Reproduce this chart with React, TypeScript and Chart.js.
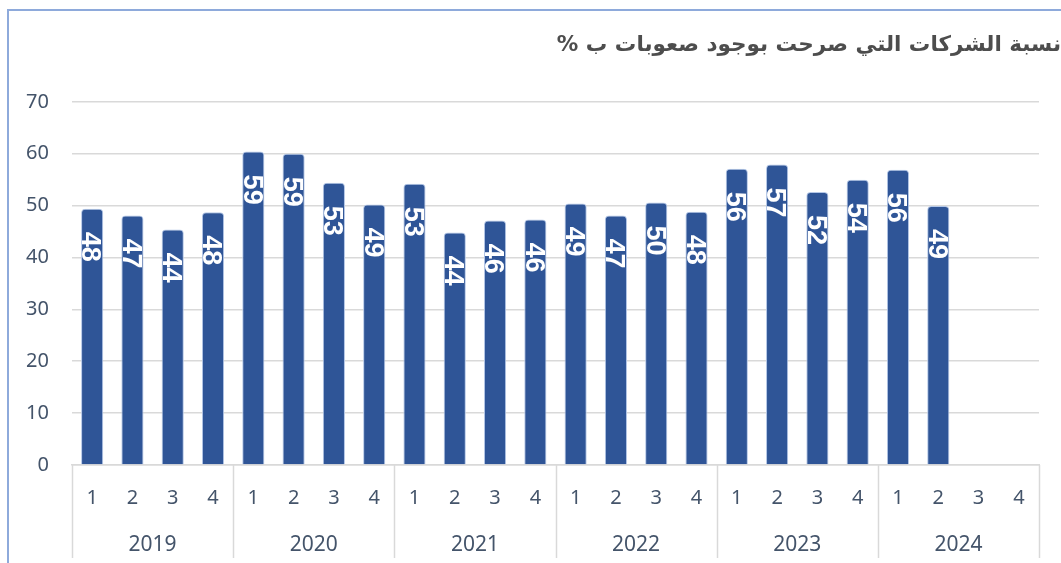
import React, { useEffect, useRef } from "react";
import { Chart, registerables } from "chart.js";

Chart.register(...registerables);

const TITLE = "نسبة الشركات التي صرحت بوجود صعوبات ب %";
const quarters = ["1", "2", "3", "4", "1", "2", "3", "4", "1", "2", "3", "4", "1", "2", "3", "4", "1", "2", "3", "4", "1", "2", "3", "4"];
const years = ["2019", "2020", "2021", "2022", "2023", "2024"];
// bar heights as drawn in the picture
const barValues = [49.4, 48.1, 45.4, 48.7, 60.4, 60.0, 54.4, 50.2, 54.2, 44.8, 47.1, 47.3, 50.4, 48.1, 50.6, 48.8, 57.1, 57.9, 52.6, 55.0, 56.9, 49.9, null, null];
// value labels printed on the bars
const barLabels = ["48", "47", "44", "48", "59", "59", "53", "49", "53", "44", "46", "46", "49", "47", "50", "48", "56", "57", "52", "54", "56", "49", "", ""];
const yTicks = [0, 10, 20, 30, 40, 50, 60, 70];

const AXIS_COLOR = "#44546A";
const GRID_COLOR = "#D9D9D9";
const BAR_COLOR = "#2F5597";

const valueLabelPlugin = {
  id: "valueLabels",
  afterDatasetsDraw(chart: any) {
    const meta = chart.getDatasetMeta(0);
    const ctx = chart.ctx;
    const size = 27;
    ctx.save();
    ctx.fillStyle = "#FFFFFF";
    ctx.font = `bold ${size}px "Liberation Sans", Arial, sans-serif`;
    ctx.textAlign = "left";
    ctx.textBaseline = "alphabetic";
    meta.data.forEach((bar: any, i: number) => {
      const txt = barLabels[i];
      if (!txt || barValues[i] == null) return;
      ctx.save();
      ctx.translate(bar.x, bar.y + 23);
      ctx.rotate(Math.PI / 2);
      ctx.fillText(txt, 0, size * 0.716 / 2);
      ctx.restore();
    });
    ctx.restore();
  },
};

const separatorPlugin = {
  id: "groupSeparators",
  afterDraw(chart: any) {
    const xs = chart.scales.x;
    const ctx = chart.ctx;
    const area = chart.chartArea;
    const half = (xs.getPixelForValue(1) - xs.getPixelForValue(0)) / 2;
    ctx.save();
    ctx.strokeStyle = GRID_COLOR;
    ctx.lineWidth = 1.5;
    for (let i = 0; i <= quarters.length; i += 4) {
      const px = i < quarters.length ? xs.getPixelForValue(i) - half : xs.getPixelForValue(quarters.length - 1) + half;
      ctx.beginPath();
      ctx.moveTo(Math.round(px) + 0.5, area.bottom);
      ctx.lineTo(Math.round(px) + 0.5, 558);
      ctx.stroke();
    }
    ctx.restore();
  },
};

export default function App() {
  const ref = useRef<HTMLCanvasElement>(null);
  useEffect(() => {
    document.body.style.margin = "0";
    const chart = new Chart(ref.current as HTMLCanvasElement, {
      type: "bar",
      data: {
        labels: quarters,
        datasets: [
          {
            data: barValues as any,
            backgroundColor: BAR_COLOR,
            borderColor: "#B4C7E7",
            borderWidth: 1,
            borderRadius: { topLeft: 4, topRight: 4, bottomLeft: 0, bottomRight: 0 },
            borderSkipped: "bottom",
            barPercentage: 0.55,
            categoryPercentage: 1,
            xAxisID: "x",
          },
        ],
      },
      options: {
        animation: false,
        responsive: true,
        maintainAspectRatio: false,
        layout: { padding: { left: 0, right: 0, top: 0, bottom: 4 } },
        plugins: {
          legend: { display: false },
          tooltip: { enabled: false },
          title: {
            display: true,
            text: TITLE,
            align: "end",
            color: "#4D4D4D",
            font: { family: "'DejaVu Sans', sans-serif", size: 21.5, weight: "bold", lineHeight: 1.2 },
            padding: { top: 33, bottom: 43 },
          },
        },
        scales: {
          y: {
            min: 0,
            max: 70,
            afterBuildTicks: (s: any) => {
              s.ticks = yTicks.map((v) => ({ value: v }));
            },
            afterFit: (s: any) => {
              s.width = 72;
            },
            grid: { color: GRID_COLOR, lineWidth: 1.5, drawTicks: false },
            border: { display: false },
            ticks: {
              color: AXIS_COLOR,
              padding: 23,
              font: { family: "'Noto Sans', sans-serif", size: 20 },
            },
          },
          spacer: {
            type: "linear",
            position: "right",
            display: true,
            grid: { display: false, drawTicks: false },
            border: { display: false },
            ticks: { display: false },
            afterFit: (s: any) => {
              s.width = 22;
            },
          },
          x: {
            type: "category",
            position: "bottom",
            grid: { display: false, drawTicks: false },
            border: { display: true, color: GRID_COLOR, width: 1.5 },
            ticks: {
              color: AXIS_COLOR,
              padding: 21,
              maxRotation: 0,
              autoSkip: false,
              font: { family: "'Noto Sans', sans-serif", size: 20 },
            },
            afterFit: (s: any) => {
              s.height = 47;
            },
          },
          year: {
            type: "category",
            position: "bottom",
            labels: years,
            offset: true,
            grid: { display: false, drawTicks: false },
            border: { display: false },
            ticks: {
              color: AXIS_COLOR,
              padding: 20,
              maxRotation: 0,
              autoSkip: false,
              font: { family: "'Noto Sans', sans-serif", size: 21 },
            },
            afterFit: (s: any) => {
              s.height = 47;
            },
          },
        },
      },
      plugins: [valueLabelPlugin, separatorPlugin],
    } as any);
    return () => chart.destroy();
  }, []);

  return (
    <div style={{ position: "fixed", left: 0, top: 0, width: 1061, height: 563, background: "#fff", overflow: "hidden" }}>
      <div
        style={{
          position: "absolute",
          left: 7,
          top: 9,
          width: 1100,
          height: 600,
          borderLeft: "2px solid #8EAADB",
          borderTop: "2px solid #8EAADB",
        }}
      />
      <div style={{ position: "absolute", left: 0, top: 0, width: 1061, height: 563 }}>
        <canvas ref={ref} style={{ direction: "rtl" }} />
      </div>
    </div>
  );
}
